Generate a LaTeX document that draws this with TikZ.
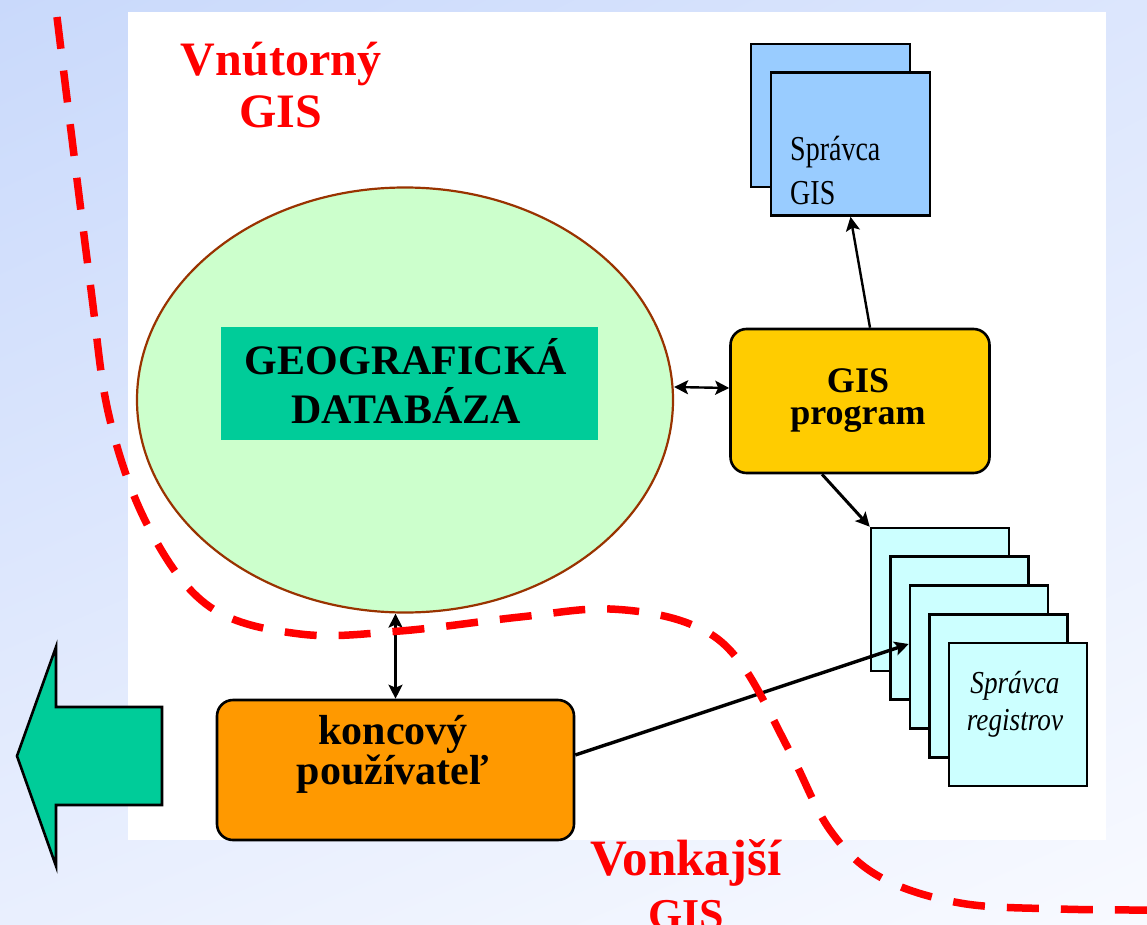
\documentclass[tikz,border=0pt]{standalone}
\usepackage{fontspec}
\setmainfont{Liberation Serif}
\usepackage{graphicx}
\usetikzlibrary{shapes.geometric,arrows.meta,shadings}
\definecolor{bgA}{HTML}{C9D9FB}
\definecolor{bgB}{HTML}{DCE6FD}
\definecolor{bgC}{HTML}{E9EFFE}
\definecolor{bgD}{HTML}{F8FAFF}
\definecolor{dbFill}{HTML}{CCFFCC}
\definecolor{dbLine}{HTML}{993300}
\definecolor{teal}{HTML}{00CC99}
\definecolor{progFill}{HTML}{FFCC00}
\definecolor{userFill}{HTML}{FF9900}
\definecolor{admFill}{HTML}{99CCFF}
\definecolor{regFill}{HTML}{CCFFFF}
\definecolor{redline}{HTML}{FF0000}
\begin{document}
\begin{tikzpicture}[x=1pt,y=-1pt,
  box/.style={draw=black, line width=2.6pt, inner sep=0pt},
  rbox/.style={box, rounded corners=16pt},
  admbox/.style={box, fill=admFill, minimum width=159pt, minimum height=143pt},
  regbox/.style={box, fill=regFill, minimum width=138pt, minimum height=143pt},
  txt/.style={inner sep=0pt, anchor=base},
  conn/.style={draw=black, line width=2.4pt, -{Stealth[length=14pt,width=14pt,inset=3pt]}},
  dconn/.style={conn, {Stealth[length=14pt,width=14pt,inset=3pt]}-{Stealth[length=14pt,width=14pt,inset=3pt]}},
  border/.style={draw=redline, line width=7.5pt, dash pattern=on 32pt off 22pt}
]
\clip (0,0) rectangle (1147,925);
\shade[upper left=bgA, upper right=bgB, lower left=bgC, lower right=bgD] (0,0) rectangle (1147,925);
\fill[white] (128,12) rectangle (1106,840);

% database ellipse
\node[ellipse, draw=dbLine, line width=2.2pt, fill=dbFill, minimum width=536pt, minimum height=425pt, inner sep=0pt] (db) at (405,400) {};
\node[fill=teal, minimum width=377pt, minimum height=113pt, inner sep=0pt] (geo) at (409.5,383) {};
\node[txt] (geotext) at (406,374) {\bfseries\fontsize{42}{46}\selectfont\begin{tabular}[t]{@{}c@{}}GEOGRAFICKÁ\\DATABÁZA\end{tabular}};

% GIS program
\node[rbox, fill=progFill, minimum width=259pt, minimum height=144pt] (prog) at (860,401) {};
\node[txt] (progtext) at (858,392) {\bfseries\fontsize{36}{32}\selectfont\begin{tabular}[t]{@{}c@{}}GIS\\program\end{tabular}};

% administrator boxes
\node[admbox] (adm1) at (830.5,115.5) {};
\node[admbox] (adm2) at (850.5,144) {};
\node[inner sep=0pt, anchor=base west] (admtext) at (790,161) {\fontsize{35}{44}\selectfont\scalebox{0.8}[1]{\begin{tabular}[t]{@{}l@{}}Správca\\GIS\end{tabular}}};

% registry boxes
\node[regbox] (r1) at (940,599.5) {};
\node[regbox] (r2) at (959.5,628.25) {};
\node[regbox] (r3) at (979,657) {};
\node[regbox] (r4) at (998.5,685.75) {};
\node[regbox] (r5) at (1018,714.5) {};
\node[txt] (regtext) at (1015,693) {\itshape\fontsize{32}{37}\selectfont\scalebox{0.85}[1]{\begin{tabular}[t]{@{}c@{}}Správca\\registrov\end{tabular}}};

% end user
\node[rbox, fill=userFill, minimum width=357pt, minimum height=140pt] (user) at (395.5,770) {};
\node[txt] (usertext) at (393,744) {\bfseries\fontsize{42}{37}\selectfont\begin{tabular}[t]{@{}c@{}}koncový\\používateľ\end{tabular}};

% big green arrow
\draw[fill=teal, draw=black, line width=2.6pt, line join=miter]
  (17,756) -- (56,647) -- (56,707) -- (162,707) -- (162,805) -- (56,805) -- (56,866) -- cycle;

% connectors
\draw[dconn] ([yshift=13pt]prog.west) -- ([yshift=13pt]db.east);
\draw[conn] ([xshift=10pt]prog.north) -- (adm2.south);
\draw[conn, line width=3pt] ([xshift=-38pt]prog.south) -- (r1.north west);
\draw[dconn] (user.north) -- (user.north |- db.south);
\draw[conn, line width=3.4pt] ([yshift=15pt]user.east) -- ([yshift=13pt]r3.west);

% boundary between inner and outer GIS
\draw[border] plot[smooth, tension=0.6] coordinates {
  (57,17) (90,282) (110,420) (150,530) (210,607) (300,634) (400,631) (520,617)
  (610,609) (690,624) (740,662) (790,752) (830,830) (880,877) (960,903) (1060,909) (1150,910)};

% labels
\node[txt, text=redline] (inner) at (281,76) {\bfseries\fontsize{48}{52}\selectfont\begin{tabular}[t]{@{}c@{}}Vnútorný\\GIS\end{tabular}};
\node[txt, text=redline] (outer) at (686,875) {\bfseries\fontsize{51}{54}\selectfont\begin{tabular}[t]{@{}c@{}}Vonkajší\\{\fontsize{44}{54}\selectfont GIS}\end{tabular}};
\end{tikzpicture}
\end{document}
